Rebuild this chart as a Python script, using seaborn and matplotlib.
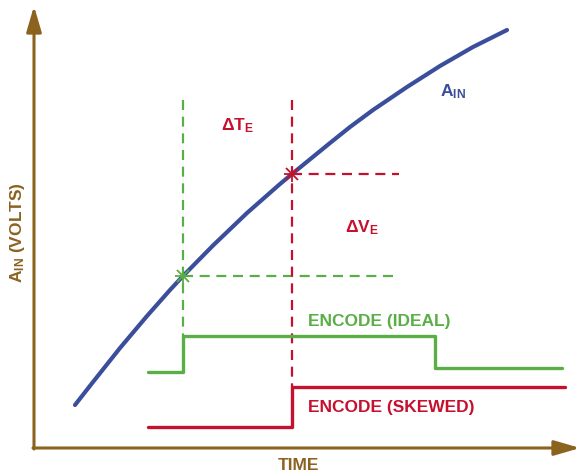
import numpy as np
import pandas as pd
import matplotlib
matplotlib.use('Agg')
import matplotlib.pyplot as plt
import seaborn as sns

# Data (picture coordinates, y grows downward)
curve_x = [75, 93, 120, 147, 170, 183, 213, 247, 280, 292, 330, 350, 373, 407, 440, 473, 507]
curve_y = [406, 383, 349, 317, 291, 277, 246.5, 214, 185, 175, 144, 128, 111, 88, 67, 48, 31]

ideal_t = [148, 183, 435, 562]
ideal_level = [373, 337, 369, 369]
skewed_t = [148, 292, 565]
skewed_level = [428, 388, 388]

sample_ideal = (183, 277)
sample_skewed = (292, 175)
dash_top = 101
dash_right = 399

BROWN = '#8C621F'
BLUE = '#3A4E9C'
GREEN = '#5AAE46'
RED = '#C5102E'

sns.set_theme(style='white')
plt.rcParams['font.family'] = ['Liberation Sans', 'DejaVu Sans']
plt.rcParams['font.weight'] = 'bold'
plt.rcParams['mathtext.fontset'] = 'custom'
plt.rcParams['mathtext.rm'] = 'Liberation Sans:bold'
plt.rcParams['mathtext.default'] = 'rm'

fig = plt.figure(figsize=(5.8, 4.77), dpi=100)
ax = fig.add_axes([0, 0, 1, 1])
ax.set_xlim(0, 580)
ax.set_ylim(477, 0)
ax.axis('off')

# axes with arrows
arrow = dict(arrowstyle='-|>,head_length=1.3,head_width=0.38', lw=2.2,
             color=BROWN, shrinkA=0, shrinkB=0)
ax.annotate('', xy=(34, 7), xytext=(34, 450), arrowprops=arrow)
ax.annotate('', xy=(580, 449), xytext=(33, 449), arrowprops=arrow)

# dashed guide lines
dash = dict(lw=1.6, dashes=(4.5, 3))
ax.plot([sample_ideal[0]] * 2, [dash_top, ideal_level[1]], color=GREEN, **dash)
ax.plot([sample_ideal[0], dash_right], [sample_ideal[1]] * 2, color=GREEN, **dash)
ax.plot([sample_skewed[0]] * 2, [dash_top, skewed_level[1]], color=RED, **dash)
ax.plot([sample_skewed[0], dash_right], [sample_skewed[1]] * 2, color=RED, **dash)

# input signal
curve = pd.DataFrame({'t': curve_x, 'v': curve_y})
sns.lineplot(data=curve, x='t', y='v', sort=False, color=BLUE, lw=3, ax=ax)

# encode signals
sns.lineplot(x=ideal_t, y=ideal_level, drawstyle='steps-post', color=GREEN, lw=2.4, ax=ax)
sns.lineplot(x=skewed_t, y=skewed_level, drawstyle='steps-post', color=RED, lw=2.4, ax=ax)

# sample points
for (px, py), c in [(sample_ideal, GREEN), (sample_skewed, RED)]:
    ax.plot(px, py, marker='+', ms=11, mew=1.3, color=c)
    ax.plot(px, py, marker='x', ms=8, mew=1.3, color=c)

ax.set_xlim(0, 580)
ax.set_ylim(477, 0)

# labels
fs = 12.5
ax.text(453, 92, 'A$_{IN}$', color=BLUE, fontsize=fs, ha='center', va='center')
ax.text(237, 126, 'ΔT$_{E}$', color=RED, fontsize=fs, ha='center', va='center')
ax.text(362, 228, 'ΔV$_{E}$', color=RED, fontsize=fs, ha='center', va='center')
ax.text(379, 322, 'ENCODE (IDEAL)', color=GREEN, fontsize=fs, ha='center', va='center')
ax.text(391, 408, 'ENCODE (SKEWED)', color=RED, fontsize=fs, ha='center', va='center')
ax.text(298, 466, 'TIME', color=BROWN, fontsize=fs, ha='center', va='center')
ax.text(18, 233, 'A$_{IN}$ (VOLTS)', color=BROWN, fontsize=fs, ha='center',
        va='center', rotation=90)

fig.savefig('out.png', dpi=100)
